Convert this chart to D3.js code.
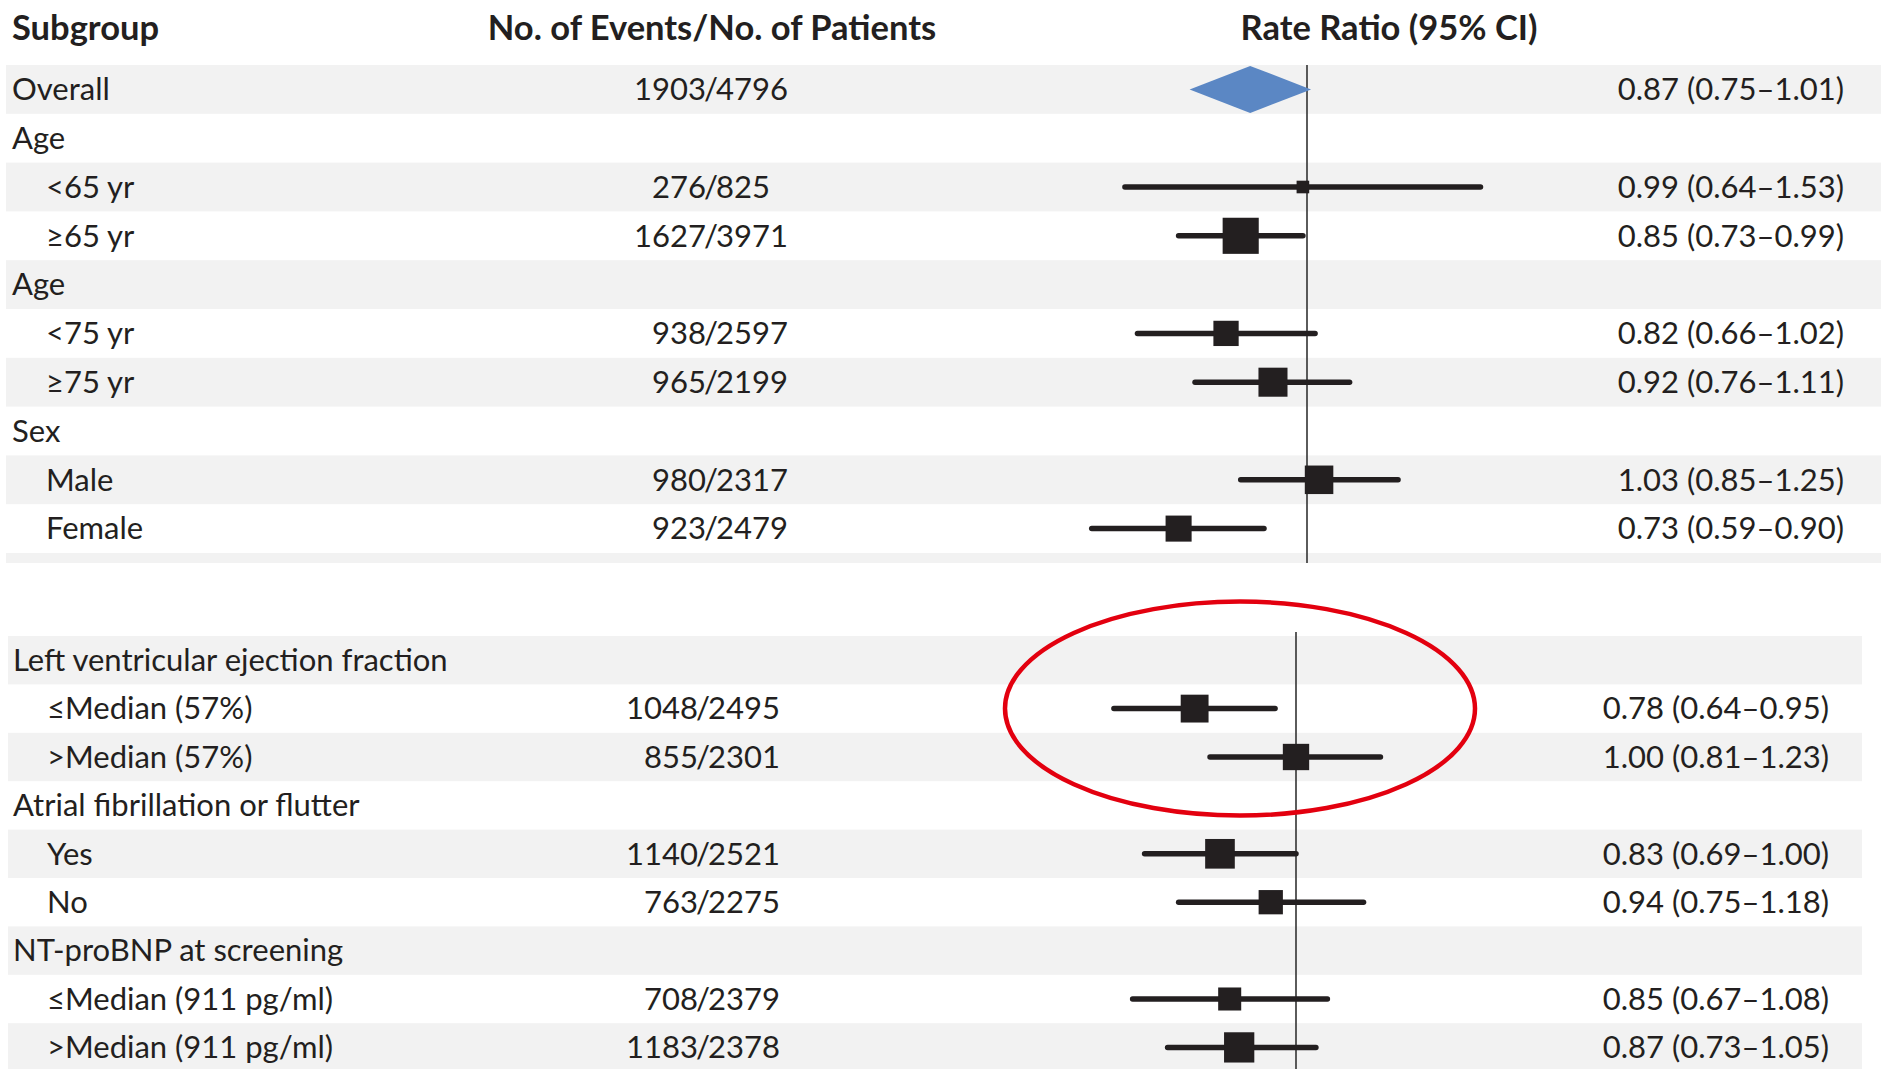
<!DOCTYPE html>
<html>
<head>
<meta charset="utf-8">
<script src="https://cdn.jsdelivr.net/npm/d3@7"></script>
<style>
  html, body { margin: 0; padding: 0; background: #fff; }
  svg { display: block; }
  text { font-family: Lato, "Noto Sans", sans-serif; fill: #231f20; }
</style>
</head>
<body>
<svg id="chart" width="1881" height="1069"></svg>
<script>
// ---- Panel A: overall, age and sex subgroups ----
const topLabels   = ["Overall", "Age", "<65 yr", "≥65 yr", "Age", "<75 yr", "≥75 yr", "Sex", "Male", "Female"];
const topLevel    = [0, 0, 1, 1, 0, 1, 1, 0, 1, 1];
const topEvents   = [1903, null, 276, 1627, null, 938, 965, null, 980, 923];
const topPatients = [4796, null, 825, 3971, null, 2597, 2199, null, 2317, 2479];
const topRR       = [0.87, null, 0.99, 0.85, null, 0.82, 0.92, null, 1.03, 0.73];
const topLow      = [0.75, null, 0.64, 0.73, null, 0.66, 0.76, null, 0.85, 0.59];
const topHigh     = [1.01, null, 1.53, 0.99, null, 1.02, 1.11, null, 1.25, 0.90];

// ---- Panel B: ejection fraction, atrial fibrillation, NT-proBNP ----
const botLabels   = ["Left ventricular ejection fraction", "≤Median (57%)", ">Median (57%)",
                     "Atrial fibrillation or flutter", "Yes", "No",
                     "NT-proBNP at screening", "≤Median (911 pg/ml)", ">Median (911 pg/ml)"];
const botLevel    = [0, 1, 1, 0, 1, 1, 0, 1, 1];
const botEvents   = [null, 1048, 855, null, 1140, 763, null, 708, 1183];
const botPatients = [null, 2495, 2301, null, 2521, 2275, null, 2379, 2378];
const botRR       = [null, 0.78, 1.00, null, 0.83, 0.94, null, 0.85, 0.87];
const botLow      = [null, 0.64, 0.81, null, 0.69, 0.75, null, 0.67, 0.73];
const botHigh     = [null, 0.95, 1.23, null, 1.00, 1.18, null, 1.08, 1.05];

// Column headings
const headings = ["Subgroup", "No. of Events/No. of Patients", "Rate Ratio (95% CI)"];

const rrDomain = [0.5, 2];
const fmt = d3.format(".2f");

const svg = d3.select("#chart");
const ink = "#231f20";
const band = "#f2f2f2";
const fontSize = 31;
const headSize = 34.5;

function rows(labels, level, ev, pt, rr, lo, hi) {
  return labels.map((l, i) => ({
    label: l, level: level[i], events: ev[i], patients: pt[i],
    rr: rr[i], lo: lo[i], hi: hi[i], overall: l === "Overall"
  }));
}

const topRows = rows(topLabels, topLevel, topEvents, topPatients, topRR, topLow, topHigh);
const botRows = rows(botLabels, botLevel, botEvents, botPatients, botRR, botLow, botHigh);

// Square side grows with the precision of the estimate (1 / log CI width)
const boxSize = d3.scaleLinear().domain([0, 1]).range([0, 11]);

function drawPanel(g, data, opt) {
  const nb = data.length + (opt.extraBand ? 1 : 0);
  const y = d3.scaleBand()
    .domain(d3.range(nb))
    .range([opt.top, opt.top + opt.step * nb])
    .paddingInner(0).paddingOuter(0);
  const x = d3.scaleLog().domain(rrDomain).range(opt.xRange);

  // alternating row shading
  g.selectAll("rect.band")
    .data(d3.range(nb).filter(i => i % 2 === 0))
    .join("rect")
    .attr("class", "band")
    .attr("x", opt.bandX0)
    .attr("width", opt.bandX1 - opt.bandX0)
    .attr("y", i => y(i))
    .attr("height", i => (i === data.length ? opt.extraBand : y.bandwidth()))
    .attr("fill", band);

  // reference line at a rate ratio of 1
  g.append("line")
    .attr("x1", x(1)).attr("x2", x(1))
    .attr("y1", opt.lineTop)
    .attr("y2", opt.extraBand ? y(data.length) + opt.extraBand : opt.lineBottom)
    .attr("stroke", "#333").attr("stroke-width", 1.6);

  const cy = i => y(i) + y.bandwidth() / 2;
  const rowY = d => cy(data.indexOf(d));

  const row = g.selectAll("g.row").data(data).join("g").attr("class", "row");

  // subgroup labels
  row.append("text")
    .attr("x", d => d.level ? opt.labelX + 34 : opt.labelX)
    .attr("y", rowY)
    .attr("dy", "0.35em")
    .attr("font-size", fontSize)
    .text(d => d.label);

  // events / patients, aligned on the slash
  const counts = row.filter(d => d.events != null);
  counts.append("text")
    .attr("x", opt.slashX - 5).attr("y", rowY)
    .attr("dy", "0.35em").attr("text-anchor", "end")
    .attr("font-size", fontSize)
    .text(d => d.events);
  counts.append("text")
    .attr("x", opt.slashX).attr("y", rowY)
    .attr("dy", "0.35em").attr("text-anchor", "middle")
    .attr("font-size", fontSize)
    .text("/");
  counts.append("text")
    .attr("x", opt.slashX + 5).attr("y", rowY)
    .attr("dy", "0.35em").attr("text-anchor", "start")
    .attr("font-size", fontSize)
    .text(d => d.patients);

  const est = row.filter(d => d.rr != null);

  // rate ratio text
  est.append("text")
    .attr("x", opt.valueX).attr("y", rowY)
    .attr("dy", "0.35em").attr("text-anchor", "end")
    .attr("font-size", fontSize)
    .text(d => `${fmt(d.rr)} (${fmt(d.lo)}\u2013${fmt(d.hi)})`);

  // confidence intervals
  est.filter(d => !d.overall).append("line")
    .attr("x1", d => x(d.lo)).attr("x2", d => x(d.hi))
    .attr("y1", rowY).attr("y2", rowY)
    .attr("stroke", ink).attr("stroke-width", 5.5).attr("stroke-linecap", "round");

  // point estimates
  est.filter(d => !d.overall).append("rect")
    .each(function (d) {
      const s = boxSize(1 / Math.log(d.hi / d.lo));
      d3.select(this)
        .attr("x", x(d.rr) - s / 2).attr("y", rowY(d) - s / 2)
        .attr("width", s).attr("height", s);
    })
    .attr("fill", ink);

  // overall diamond
  est.filter(d => d.overall).append("path")
    .attr("d", d => {
      const c = rowY(d), h = 23.5;
      return `M${x(d.lo)},${c}L${x(d.rr)},${c - h}L${x(d.hi)},${c}L${x(d.rr)},${c + h}Z`;
    })
    .attr("fill", "#5b87c4");

  return { x, y, cy };
}

// headings
svg.append("text").attr("x", 12).attr("y", 28).attr("dy", "0.35em")
  .attr("font-size", headSize).attr("font-weight", "bold").text(headings[0]);
svg.append("text").attr("x", 712).attr("y", 28).attr("dy", "0.35em").attr("text-anchor", "middle")
  .attr("font-size", headSize).attr("font-weight", "bold").text(headings[1]);
svg.append("text").attr("x", 1389).attr("y", 28).attr("dy", "0.35em").attr("text-anchor", "middle")
  .attr("font-size", headSize).attr("font-weight", "bold").text(headings[2]);

drawPanel(svg.append("g"), topRows, {
  top: 65, step: 48.8, extraBand: 10,
  xRange: [1307 - Math.log(2) * 408, 1307 + Math.log(2) * 408],
  bandX0: 6, bandX1: 1881, lineTop: 65,
  labelX: 12, slashX: 711, valueX: 1844
});

const bot = drawPanel(svg.append("g"), botRows, {
  top: 636, step: 48.4, extraBand: 0,
  xRange: [1296 - Math.log(2) * 408, 1296 + Math.log(2) * 408],
  bandX0: 8, bandX1: 1862, lineTop: 632, lineBottom: 1069,
  labelX: 13, slashX: 703, valueX: 1829
});

// highlight around the ejection-fraction subgroups
svg.append("ellipse")
  .attr("cx", 1240).attr("cy", bot.cy(1))
  .attr("rx", 235).attr("ry", 107)
  .attr("fill", "none").attr("stroke", "#e3000f").attr("stroke-width", 4.5);
</script>
</body>
</html>
